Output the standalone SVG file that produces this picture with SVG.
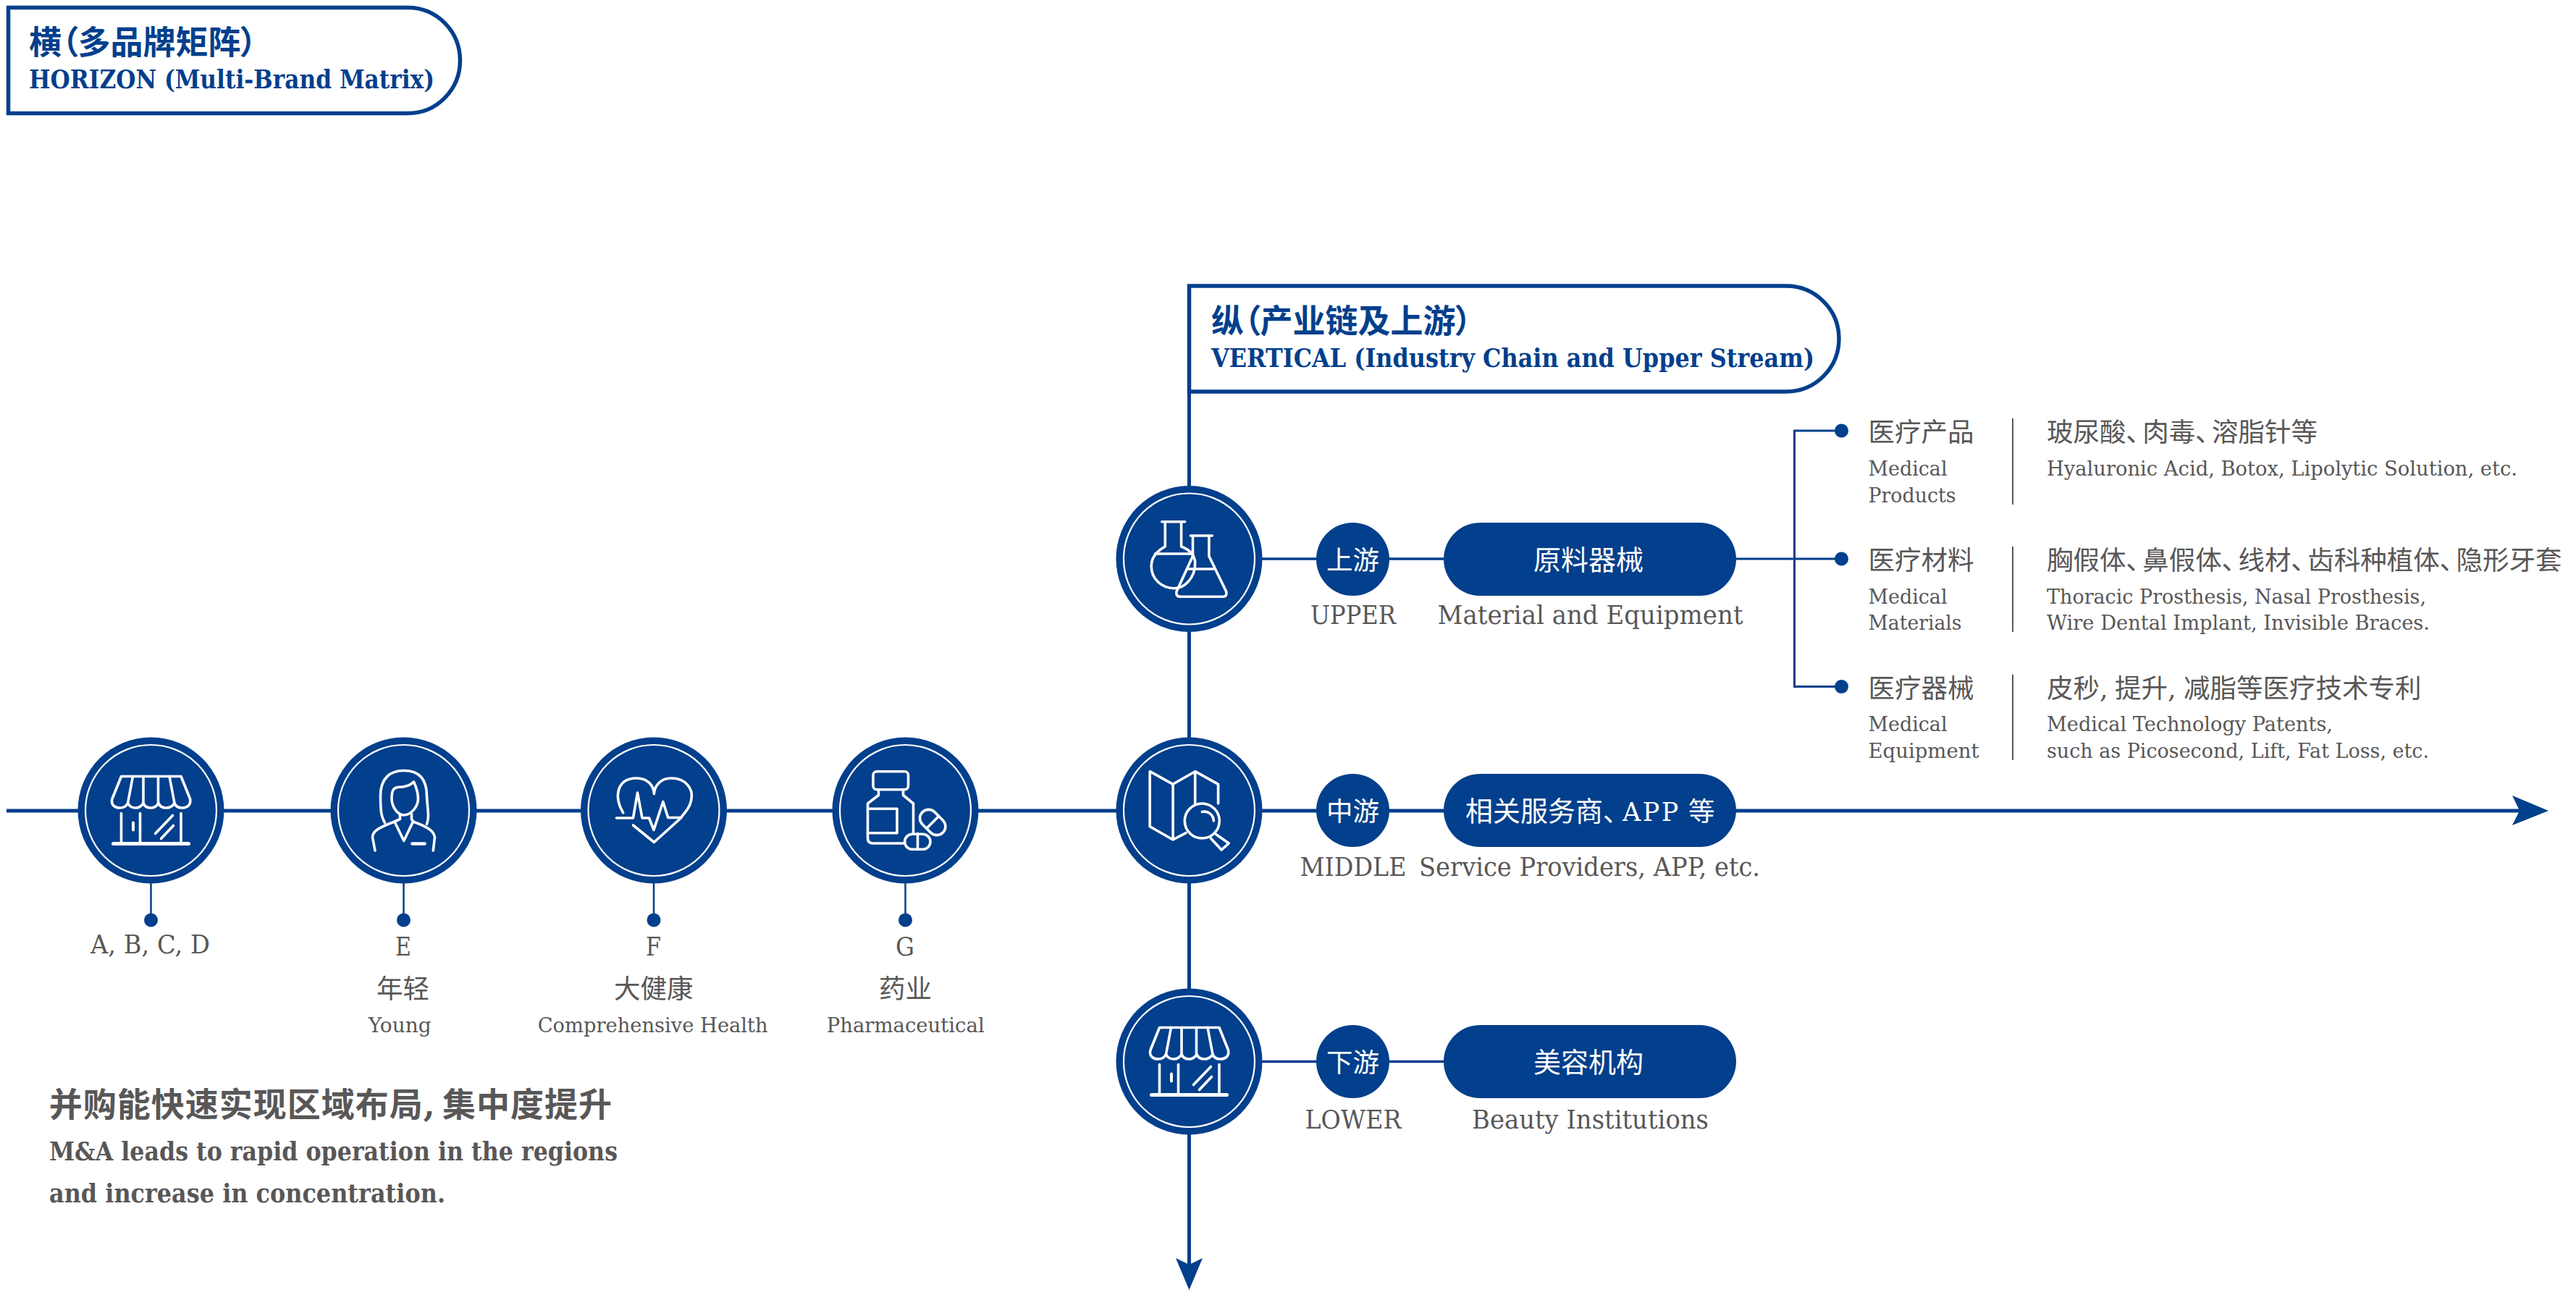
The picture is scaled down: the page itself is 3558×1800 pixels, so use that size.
<svg xmlns="http://www.w3.org/2000/svg" xmlns:xlink="http://www.w3.org/1999/xlink" width="3558" height="1800" viewBox="0 0 3558 1800">
<style>
text{font-family:"DejaVu Serif","Noto Sans CJK SC",serif;white-space:pre}
.cn{font-family:"Noto Sans CJK SC",sans-serif}
.p{font-feature-settings:"palt"}
.g{fill:#595757}
.b{fill:#023f8c}
.w{fill:#fff}
.bd{font-weight:700}
.s36{font-size:36.500px}
.s38{font-size:38px}
.lat{font-size:35px}
.sm{font-size:28px}
.ln{stroke:#023f8c;fill:none;stroke-width:5}
.thin{stroke:#023f8c;fill:none;stroke-width:2.500}
.med{stroke:#023f8c;fill:none;stroke-width:3}
.sep{stroke:#595757;fill:none;stroke-width:2}
.box{fill:#fff;stroke:#023f8c;stroke-width:5.500}
.fillb{fill:#023f8c}
.ic{fill:none;stroke:#fff;stroke-width:3.600;stroke-linecap:round;stroke-linejoin:round}
.ring{fill:none;stroke:#fff;stroke-width:2.200}
</style>
<defs>
<g id="disc"><circle r="101" class="fillb"/><circle r="90.500" class="ring"/></g>
<g id="store" class="ic">
<path d="M-41,-47H41.500L54,-16C56,-6 48,-3.500 43,-3.500C38,-3.500 34,-6 32.500,-10C30,-6 26,-3.500 21,-3.500C16,-3.500 12,-6 10.500,-10C8,-6 4,-3.500 0,-3.500C-5,-3.500 -9,-6 -10.500,-10C-13,-6 -17,-3.500 -21,-3.500C-26,-3.500 -30,-6 -32,-10C-34,-6 -38,-3.500 -43,-3.500C-49,-3.500 -56,-7 -53.500,-16Z"/>
<path d="M-25,-47L-32,-10M-10.500,-47V-10M10,-47V-10M25.500,-47L32.500,-10"/>
<path d="M-41,4V44M-15,4V44M41.500,4V44"/>
<path d="M-52,46H52" stroke-width="5"/>
<path d="M-24.500,17V27" stroke-width="4"/>
<path d="M30,7L6,32M31,21L14,39"/>
</g>
</defs>

<g id="connectors">
<path class="ln" d="M9,1120H3480"/>
<path class="ln" d="M1642.500,541V1760"/>
<polygon class="fillb" points="3520,1120 3470,1099 3480,1120 3470,1140"/>
<polygon class="fillb" points="1642.500,1782 1661,1738 1642.500,1747 1624,1738"/>
<path class="ln" style="stroke-width:3.500" d="M1743,772H1994M1743,1466.500H1994"/>
<path class="med" d="M2398,772H2543"/>
<path class="med" d="M2543,595H2478.500V948.500H2543"/>
<path class="thin" d="M208.500,1220V1271M557.500,1220V1271M903,1220V1271M1250.500,1220V1271"/>
<circle class="fillb" cx="208.500" cy="1271" r="9.500"/>
<circle class="fillb" cx="557.500" cy="1271" r="9.500"/>
<circle class="fillb" cx="903" cy="1271" r="9.500"/>
<circle class="fillb" cx="1250.500" cy="1271" r="9.500"/>
<circle class="fillb" cx="2543.500" cy="595" r="9.500"/>
<circle class="fillb" cx="2543.500" cy="772" r="9.500"/>
<circle class="fillb" cx="2543.500" cy="948.500" r="9.500"/>
</g>

<g id="title-horizon">
<path class="box" d="M11.500,10.500H563.500A72,73 0 0 1 563.500,156.500H11.500Z"/>
<text class="cn b bd p" font-size="45" x="40" y="75">横（多品牌矩阵）</text>
<text class="b bd" font-size="35" x="40" y="122" textLength="560" lengthAdjust="spacingAndGlyphs">HORIZON (Multi-Brand Matrix)</text>
</g>

<g id="title-vertical">
<path class="box" d="M1642.500,395H2467A73,73 0 0 1 2467,541H1642.500Z"/>
<text class="cn b bd p" font-size="45" x="1673" y="460">纵（产业链及上游）</text>
<text class="b bd" font-size="35" x="1673" y="507" textLength="833" lengthAdjust="spacingAndGlyphs">VERTICAL (Industry Chain and Upper Stream)</text>
</g>

<g id="node-abcd">
<use xlink:href="#disc" href="#disc" x="208.500" y="1119.500"/>
<use xlink:href="#store" href="#store" x="208.500" y="1119.500"/>
<text class="g lat" x="125" y="1316.500" textLength="165" lengthAdjust="spacingAndGlyphs">A, B, C, D</text>
</g>

<g id="node-e">
<use xlink:href="#disc" href="#disc" x="557.500" y="1119.500"/>
<g class="ic" transform="translate(557.500,1119.500)">
<path d="M-26,17C-30,10 -32,5 -32,-20C-32,-45 -18,-55 0,-55C20,-55 32,-45 32,-20C33,0 36,8 32,19"/>
<path d="M14,-39.500C8,-33 0,-32 -8,-32C-14,-31 -16,-28 -16.500,-18C-17,-5 -8,6.500 0,6.500C10,6.500 20,-5 20,-16C20,-25 17,-33 14,-39.500Z"/>
<path d="M-5,5V12L-12.500,15.500L0.300,42L13,15.500L11,12V5"/>
<path d="M-39.500,55.500L-43,37C-43,30 -38,25 -12.500,15.500M40.800,55.500L43,37C42,30 37,24 13,15.500"/>
<path d="M12,46H29" stroke-width="4.500"/>
</g>
<text class="g lat" x="546" y="1320" textLength="22" lengthAdjust="spacingAndGlyphs">E</text>
<text class="cn g s36" x="520" y="1379">年轻</text>
<text class="g sm" x="508.700" y="1426" textLength="87" lengthAdjust="spacingAndGlyphs">Young</text>
</g>

<g id="node-f">
<use xlink:href="#disc" href="#disc" x="903" y="1119.500"/>
<g class="ic" transform="translate(903,1119.500)">
<path d="M-42.300,3.200C-55,-18 -52,-44 -24,-44.500C-8,-44.500 0,-34 0.400,-22.800C1,-34 9,-44.500 24.300,-44.500C46,-44.500 53,-28 52.300,-19.500C52,-6 44,2 35.800,12L0.400,44L-28.500,20.500"/>
<path d="M-51.500,10.500H-28.500L-22.500,-24.500L-16,10.500H-6.500L0,27L12.800,-12L19.700,10H38"/>
</g>
<text class="g lat" x="892" y="1320" textLength="21" lengthAdjust="spacingAndGlyphs">F</text>
<text class="cn g s36" x="848" y="1379">大健康</text>
<text class="g sm" x="742.700" y="1426" textLength="318" lengthAdjust="spacingAndGlyphs">Comprehensive Health</text>
</g>

<g id="node-g">
<use xlink:href="#disc" href="#disc" x="1250.500" y="1119.500"/>
<g class="ic" transform="translate(1250.500,1119.500)">
<rect x="-44.500" y="-53.800" width="48.500" height="25" rx="5"/>
<path d="M-37,-28V-21L-52,-9.500V38Q-52,45.500 -45,45.500H-1M-3,-28V-21L11,-9.500V32"/>
<path d="M-52,-2.200H-11.500V31.200H-52"/>
<rect x="-0.900" y="32.800" width="35.400" height="21" rx="10.500"/>
<path d="M17,32V54"/>
<g transform="translate(37.700,16.500) rotate(45)"><rect x="-20" y="-12" width="40" height="24" rx="12"/><path d="M0,-12V12"/></g>
</g>
<text class="g lat" x="1237" y="1320" textLength="26" lengthAdjust="spacingAndGlyphs">G</text>
<text class="cn g s36" x="1214" y="1379">药业</text>
<text class="g sm" x="1141.700" y="1426" textLength="218" lengthAdjust="spacingAndGlyphs">Pharmaceutical</text>
</g>

<g id="node-upper">
<use xlink:href="#disc" href="#disc" x="1642.500" y="772"/>
<g class="ic" transform="translate(1642.500,772)">
<path d="M-37.700,-51.300H-5.800M-33.200,-51V-17C-46,-10 -52.300,-2 -52.300,9.700C-52.300,28 -38,40.700 -20.500,40.700C-6,40.700 8.200,26 8.200,6.300C8.200,-4 2,-12 -10.900,-17V-51"/>
<path d="M-47,-7H5"/>
<path d="M1.900,-32H31.800M5,-32V-3.700L-17.300,44.700Q-19,52.300 -12,52.300H46Q53,52.300 51,44.700L27.400,-3.700V-32"/>
<path d="M-1.300,14H33.800"/>
</g>
</g>
<g id="pill-upper">
<circle class="fillb" cx="1868.500" cy="772.500" r="50.500"/>
<text class="cn w s36" x="1832" y="787">上游</text>
<text class="g lat" x="1810" y="861.700" textLength="118" lengthAdjust="spacingAndGlyphs">UPPER</text>
<rect class="fillb" x="1994" y="722" width="404" height="101" rx="50.500"/>
<text class="cn w s38" x="2118" y="787">原料器械</text>
<text class="g lat" x="1985.600" y="861.700" textLength="422" lengthAdjust="spacingAndGlyphs">Material and Equipment</text>
</g>

<g id="node-middle">
<use xlink:href="#disc" href="#disc" x="1642.500" y="1119.500"/>
<g class="ic" transform="translate(1642.500,1119.500)">
<path d="M-4.500,31.200L-22.400,40.500L-54.300,22.200V-53.800L-22.400,-36.200L8.200,-53.800L40.100,-36.200V-9.500M-22.400,-36.200V40.500M8.200,-53.800V-9.500"/>
<circle cx="17.800" cy="14.500" r="24"/>
<path d="M17.800,2A13,13 0 0 1 33.800,14.500"/>
<path d="M30,38.800L44.600,54.500L54.800,45.500L37,33"/>
</g>
</g>
<g id="pill-middle">
<circle class="fillb" cx="1868.500" cy="1119.500" r="50.500"/>
<text class="cn w s36" x="1832" y="1133.500">中游</text>
<text class="g lat" x="1795.500" y="1209.500" textLength="147" lengthAdjust="spacingAndGlyphs">MIDDLE</text>
<rect class="fillb" x="1994" y="1069" width="404" height="101" rx="50.500"/>
<text class="cn w s38 p" x="2024" y="1133.500">相关服务商、</text>
<text class="w" font-size="35" x="2241" y="1133.500" letter-spacing="2.500">APP <tspan font-size="36.500" x="2332" letter-spacing="0">等</tspan></text>
<text class="g lat" x="1960" y="1209.500" textLength="471" lengthAdjust="spacingAndGlyphs">Service Providers, APP, etc.</text>
</g>

<g id="node-lower">
<use xlink:href="#disc" href="#disc" x="1642.500" y="1466.500"/>
<use xlink:href="#store" href="#store" x="1642.500" y="1466.500"/>
</g>
<g id="pill-lower">
<circle class="fillb" cx="1868.500" cy="1466.500" r="50.500"/>
<text class="cn w s36" x="1832" y="1480.500">下游</text>
<text class="g lat" x="1802.500" y="1559" textLength="133" lengthAdjust="spacingAndGlyphs">LOWER</text>
<rect class="fillb" x="1994" y="1416" width="404" height="101" rx="50.500"/>
<text class="cn w s38" x="2118" y="1480.500">美容机构</text>
<text class="g lat" x="2033" y="1559" textLength="327" lengthAdjust="spacingAndGlyphs">Beauty Institutions</text>
</g>

<g id="row-products">
<text class="cn g s36" x="2580.500" y="610">医疗产品</text>
<text class="g sm" x="2580.500" y="657" textLength="109" lengthAdjust="spacingAndGlyphs">Medical</text>
<text class="g sm" x="2580.500" y="694" textLength="121" lengthAdjust="spacingAndGlyphs">Products</text>
<path class="sep" d="M2780,578V697"/>
<text class="cn g s36 p" x="2827" y="610">玻尿酸、<tspan dx="4.500">肉毒、</tspan><tspan dx="4.500">溶脂针等</tspan></text>
<text class="g sm" x="2827" y="657" textLength="650" lengthAdjust="spacingAndGlyphs">Hyaluronic Acid, Botox, Lipolytic Solution, etc.</text>
</g>

<g id="row-materials">
<text class="cn g s36" x="2580.500" y="787">医疗材料</text>
<text class="g sm" x="2580.500" y="833.500" textLength="109" lengthAdjust="spacingAndGlyphs">Medical</text>
<text class="g sm" x="2580.500" y="870" textLength="129" lengthAdjust="spacingAndGlyphs">Materials</text>
<path class="sep" d="M2780,755V873"/>
<text class="cn g s36 p" x="2827" y="787">胸假体、<tspan dx="4.500">鼻假体、</tspan><tspan dx="4.500">线材、</tspan><tspan dx="4.500">齿科种植体、</tspan><tspan dx="4.500">隐形牙套</tspan></text>
<text class="g sm" x="2827" y="833.500" textLength="524" lengthAdjust="spacingAndGlyphs">Thoracic Prosthesis, Nasal Prosthesis,</text>
<text class="g sm" x="2827" y="870" textLength="529" lengthAdjust="spacingAndGlyphs">Wire Dental Implant, Invisible Braces.</text>
</g>

<g id="row-equipment">
<text class="cn g s36" x="2580.500" y="964">医疗器械</text>
<text class="g sm" x="2580.500" y="1010" textLength="109" lengthAdjust="spacingAndGlyphs">Medical</text>
<text class="g sm" x="2580.500" y="1047" textLength="153" lengthAdjust="spacingAndGlyphs">Equipment</text>
<path class="sep" d="M2780,932V1050"/>
<text class="g s36" x="2827" y="964">皮秒, <tspan x="2921">提升, </tspan><tspan x="3016">减脂等医疗技术专利</tspan></text>
<text class="g sm" x="2827" y="1010" textLength="395" lengthAdjust="spacingAndGlyphs">Medical Technology Patents,</text>
<text class="g sm" x="2827" y="1047" textLength="528" lengthAdjust="spacingAndGlyphs">such as Picosecond, Lift, Fat Loss, etc.</text>
</g>

<g id="summary">
<text class="g bd" font-size="46" letter-spacing="1" x="67.700" y="1541.500">并购能快速实现区域布局, <tspan x="611">集中度提升</tspan></text>
<text class="g bd" font-size="35" x="68" y="1603" textLength="785" lengthAdjust="spacingAndGlyphs">M&amp;A leads to rapid operation in the regions</text>
<text class="g bd" font-size="35" x="68" y="1661" textLength="547" lengthAdjust="spacingAndGlyphs">and increase in concentration.</text>
</g>
</svg>
